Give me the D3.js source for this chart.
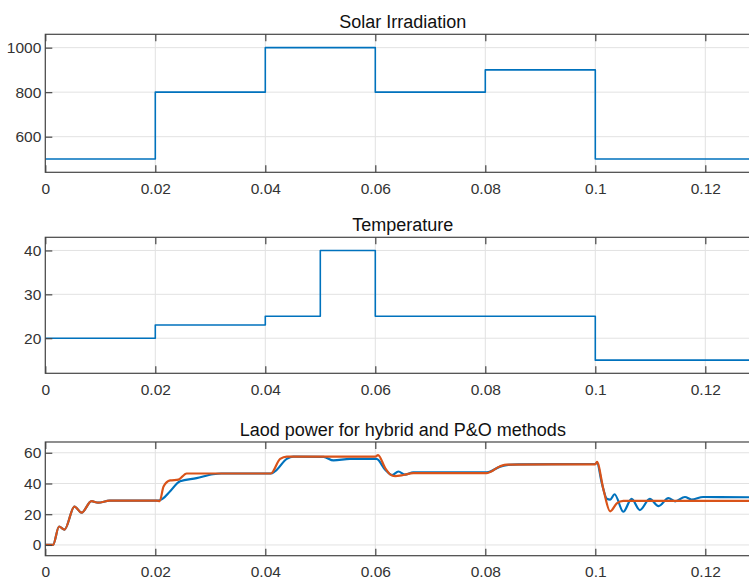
<!DOCTYPE html>
<html>
<head>
<meta charset="utf-8">
<script src="https://cdn.jsdelivr.net/npm/d3@7"></script>
<style>
  html, body { margin: 0; padding: 0; background: #fff; overflow: hidden; }
  svg { display: block; font-family: "Liberation Sans", Arial, Helvetica, sans-serif; }
</style>
</head>
<body>
<svg id="chart" width="749" height="579"></svg>
<script>
// ---------- data ----------
const xTicks = [0, 0.02, 0.04, 0.06, 0.08, 0.1, 0.12];
const xTickLabels = ["0", "0.02", "0.04", "0.06", "0.08", "0.1", "0.12"];

const irradiationTimes = [0, 0.02, 0.04, 0.06, 0.08, 0.1, 0.13];
const irradiation = [500, 800, 1000, 800, 900, 500, 500];
const irradiationTicks = [600, 800, 1000];

const temperatureTimes = [0, 0.02, 0.04, 0.05, 0.06, 0.1, 0.13];
const temperature = [20, 23, 25, 40, 25, 15, 15];
const temperatureTicks = [20, 30, 40];

const powerTicks = [0, 20, 40, 60];
const hybridTimes = [0, 0.0014, 0.0025, 0.0035, 0.0053, 0.0066, 0.0084, 0.0096, 0.0117, 0.0205, 0.0213, 0.0227, 0.0245, 0.0275, 0.0305, 0.032, 0.041, 0.0418, 0.0439, 0.0451, 0.0506, 0.0524, 0.0554, 0.0602, 0.0618, 0.063, 0.0642, 0.0654, 0.0669, 0.0803, 0.0827, 0.0839, 0.086, 0.1, 0.1003, 0.1012, 0.1021, 0.1027, 0.1035, 0.1051, 0.1066, 0.1081, 0.1099, 0.1115, 0.1133, 0.1145, 0.1163, 0.1175, 0.1196, 0.13];
const hybridPower = [0, 0, 12, 10, 25, 21, 28.5, 27.5, 28.8, 28.8, 30, 35, 41.5, 43.5, 46, 46.5, 46.5, 48, 56, 57.5, 57.3, 55, 56, 56, 49, 45.5, 47.8, 45.8, 47.3, 47.3, 51, 52, 52.5, 52.7, 53.5, 40, 30, 29.5, 33, 21.6, 30, 22.7, 30, 25.3, 30.5, 28.4, 31.2, 29.5, 31.2, 31];
const poTimes = [0, 0.0014, 0.0025, 0.0035, 0.0053, 0.0066, 0.0084, 0.0096, 0.0117, 0.0203, 0.0208, 0.0215, 0.0227, 0.0242, 0.0257, 0.041, 0.0427, 0.0439, 0.06, 0.0605, 0.0618, 0.0627, 0.0636, 0.0651, 0.0669, 0.0803, 0.0827, 0.0839, 0.1, 0.1003, 0.1015, 0.1027, 0.1039, 0.1051, 0.13];
const poPower = [0, 0, 12, 10, 25, 21, 28.5, 27.5, 28.8, 28.8, 28.5, 38, 42, 42.5, 46.5, 46.5, 56, 57.5, 57.5, 58.5, 50, 46, 44.8, 45.5, 46.8, 46.8, 51.2, 52.3, 52.5, 54, 35.8, 21.9, 27, 28.7, 28.7];

const titles = ["Solar Irradiation", "Temperature", "Laod power for hybrid and P&O methods"];

// ---------- layout ----------
const svg = d3.select("#chart");
const x = d3.scaleLinear().domain([0, 0.13]).range([45.3, 760.3]);

const panels = [
  { title: titles[0], top: 34.3, bottom: 172.3, domain: [440, 1060], ticks: irradiationTicks,
    series: [{ t: irradiationTimes, v: irradiation, color: "#0072BD", width: 1.6, curve: d3.curveStepAfter }] },
  { title: titles[1], top: 237.3, bottom: 373.3, domain: [12, 43], ticks: temperatureTicks,
    series: [{ t: temperatureTimes, v: temperature, color: "#0072BD", width: 1.6, curve: d3.curveStepAfter }] },
  { title: titles[2], top: 442, bottom: 555.7, domain: [-7, 67], ticks: powerTicks,
    series: [
      { t: hybridTimes, v: hybridPower, color: "#0072BD", width: 2.2, curve: d3.curveMonotoneX },
      { t: poTimes, v: poPower, color: "#D95319", width: 2.2, curve: d3.curveMonotoneX }
    ] }
];

const tickColor = "#333333";
const frameColor = "#454545";

panels.forEach((p, pi) => {
  const y = d3.scaleLinear().domain(p.domain).range([p.bottom, p.top]);
  const g = svg.append("g");
  const x0 = x.range()[0], x1 = x.range()[1];

  // grid
  g.append("g").selectAll("line.vg").data(xTicks).join("line")
    .attr("x1", d => x(d)).attr("x2", d => x(d))
    .attr("y1", p.top).attr("y2", p.bottom)
    .attr("stroke", "#e2e2e2").attr("stroke-width", 1);
  g.append("g").selectAll("line.hg").data(p.ticks).join("line")
    .attr("x1", x0).attr("x2", x1)
    .attr("y1", d => y(d)).attr("y2", d => y(d))
    .attr("stroke", "#e2e2e2").attr("stroke-width", 1);

  // clip
  const clipId = "clip" + pi;
  svg.append("clipPath").attr("id", clipId).append("rect")
    .attr("x", x0).attr("y", p.top).attr("width", x1 - x0).attr("height", p.bottom - p.top);

  // lines
  p.series.forEach(s => {
    const pts = s.t.map((t, i) => [t, s.v[i]]);
    const line = d3.line().x(d => x(d[0])).y(d => y(d[1])).curve(s.curve);
    g.append("path").attr("clip-path", `url(#${clipId})`)
      .attr("d", line(pts)).attr("fill", "none")
      .attr("stroke", s.color).attr("stroke-width", s.width)
      .attr("stroke-linejoin", "round");
  });

  // frame
  g.append("rect").attr("x", x0).attr("y", p.top)
    .attr("width", x1 - x0).attr("height", p.bottom - p.top)
    .attr("fill", "none").attr("stroke", frameColor).attr("stroke-width", 1.2);

  // bottom axis
  const ax = g.append("g").attr("transform", `translate(0,${p.bottom})`)
    .call(d3.axisBottom(x).tickValues(xTicks).tickFormat((d, i) => xTickLabels[i])
      .tickSizeInner(-7).tickSizeOuter(0).tickPadding(10.5));
  // top axis (ticks only)
  const axT = g.append("g").attr("transform", `translate(0,${p.top})`)
    .call(d3.axisTop(x).tickValues(xTicks).tickFormat("").tickSizeInner(-7).tickSizeOuter(0));
  // left axis
  const ay = g.append("g").attr("transform", `translate(${x0},0)`)
    .call(d3.axisLeft(y).tickValues(p.ticks).tickFormat(d3.format("d"))
      .tickSizeInner(-7).tickSizeOuter(0).tickPadding(4));

  [ax, axT, ay].forEach(a => {
    a.select(".domain").remove();
    a.selectAll(".tick line").attr("stroke", frameColor).attr("stroke-width", 1.2);
    a.selectAll(".tick text").attr("fill", tickColor)
      .style("font-size", "15.5px").style("font-family", "\"Liberation Sans\", Arial, sans-serif");
  });

  // title
  g.append("text").attr("x", (x0 + x1) / 2).attr("y", p.top - 6.5)
    .attr("text-anchor", "middle").attr("fill", "#111")
    .style("font-size", "18px").text(p.title);
});
</script>
</body>
</html>
